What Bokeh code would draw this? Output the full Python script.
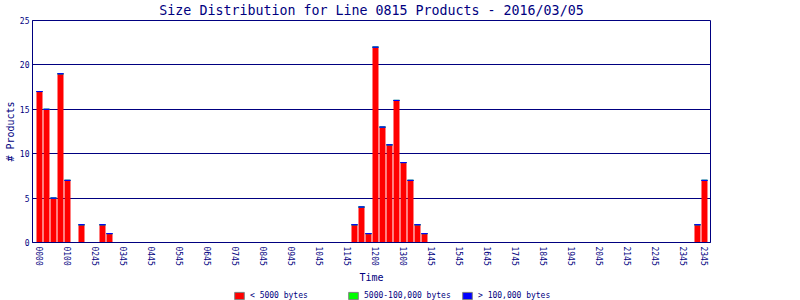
from bokeh.plotting import figure
from bokeh.layouts import column
from bokeh.models import (ColumnDataSource, Range1d, FixedTicker, Legend, LegendItem)
from bokeh.embed import file_html
from bokeh.resources import INLINE

# ---- data ----
all_slots = [f"{h:02d}{m:02d}" for h in range(24) for m in (0, 15, 30, 45)]
bar_slots = ["0000", "0015", "0030", "0045", "0100", "0130", "0215", "0230",
             "1115", "1130", "1145", "1200", "1215", "1230", "1245", "1300",
             "1315", "1330", "1345", "2330", "2345"]
small = [17, 15, 5, 19, 7, 2, 2, 1,
         2, 4, 1, 22, 13, 11, 16, 9,
         7, 2, 1, 2, 7]
medium = [0] * len(bar_slots)
large = [0] * len(bar_slots)
series_fields = ["small", "medium", "large"]
series_names = ["< 5000 bytes", "5000-100,000 bytes", "> 100,000 bytes"]
series_colors = ["#ff0000", "#00ff00", "#0000ff"]
tick_slots = ["0000", "0100", "0200", "0300", "0400", "0500", "0600", "0700",
              "0800", "0900", "1000", "1100", "1200", "1300", "1400", "1500",
              "1600", "1700", "1800", "1900", "2000", "2100", "2200", "2300", "2345"]
tick_labels = ["0000", "0100", "0245", "0345", "0445", "0545", "0645", "0745",
               "0845", "0945", "1045", "1145", "1200", "1300", "1445", "1545",
               "1645", "1745", "1845", "1945", "2045", "2145", "2245", "2345", "2345"]
y_ticks = [0, 5, 10, 15, 20, 25]

NAVY = "#000080"
FONT = "DejaVu Sans Mono"

xpos = [all_slots.index(s) for s in bar_slots]
source = ColumnDataSource(dict(x=xpos, small=small, medium=medium, large=large))

p = figure(width=800, height=288, output_backend="svg", toolbar_location=None,
           x_range=Range1d(-1.0, len(all_slots) - 0.14), y_range=Range1d(0, 25),
           min_border_left=32, min_border_right=90, min_border_top=20, min_border_bottom=46)

p.title.text = "Size Distribution for Line 0815 Products - 2016/03/05"
p.title.align = "center"
p.title.vertical_align = "top"
p.title.text_font = FONT
p.title.text_font_size = "13.3px"
p.title.text_font_style = "normal"
p.title.text_color = NAVY
p.title.standoff = 2

p.vbar_stack(series_fields, x="x", width=0.857, source=source,
             fill_color=series_colors, line_color=series_colors,
             line_alpha=[0, 1, 1], line_width=1)

tick_pos = [all_slots.index(s) for s in tick_slots]
p.xaxis.ticker = FixedTicker(ticks=tick_pos)
p.xaxis.major_label_overrides = {t: l for t, l in zip(tick_pos, tick_labels)}
p.xaxis.major_label_orientation = "vertical"
p.yaxis.ticker = FixedTicker(ticks=y_ticks)

for ax in (p.xaxis[0], p.yaxis[0]):
    ax.axis_line_color = NAVY
    ax.axis_line_width = 1
    ax.major_tick_out = 0
    ax.major_tick_in = 0
    ax.minor_tick_out = 0
    ax.minor_tick_in = 0
    ax.major_label_text_font = FONT
    ax.major_label_text_font_size = "8px"
    ax.major_label_text_color = NAVY
    ax.axis_label_text_font = FONT
    ax.axis_label_text_font_size = "10px"
    ax.axis_label_text_font_style = "normal"
    ax.axis_label_text_color = NAVY

p.xaxis.major_label_standoff = 4
p.xaxis.axis_label_standoff = 3
p.yaxis.major_label_standoff = 3
p.yaxis.axis_label_standoff = 1

p.xaxis.axis_label = "Time"
p.yaxis.axis_label = "# Products"

p.xgrid.grid_line_color = None
p.ygrid.grid_line_color = NAVY
p.ygrid.grid_line_width = 1
p.outline_line_color = NAVY
p.outline_line_width = 1
p.outline_line_alpha = 1
p.background_fill_color = "white"
p.border_fill_color = "white"

# ---- legend strip (keys from hidden copies of the same series) ----
lp = figure(width=800, height=12, output_backend="svg", toolbar_location=None,
            x_axis_type=None, y_axis_type=None,
            x_range=Range1d(-1.0, len(all_slots) - 0.14), y_range=Range1d(0, 25),
            min_border_left=0, min_border_right=0, min_border_top=0, min_border_bottom=0)
lp.grid.grid_line_color = None
lp.outline_line_color = None
lp.background_fill_color = "white"
lp.border_fill_color = "white"
proxies = []
for fld, col in zip(series_fields, series_colors):
    r = lp.vbar(x="x", top=fld, width=0.857, source=source,
                fill_color=col, line_color="#808080", line_width=1)
    r.visible = False
    proxies.append(r)

legend = Legend(items=[LegendItem(label=n, renderers=[r]) for n, r in zip(series_names, proxies)],
                location=(201, 0), orientation="horizontal", padding=0, margin=0, spacing=7,
                glyph_width=12, glyph_height=9, label_standoff=5, label_width=90,
                label_text_font=FONT, label_text_font_size="8px",
                label_text_color=NAVY, border_line_alpha=0, background_fill_alpha=0,
                label_height=9, inactive_fill_alpha=0)
lp.add_layout(legend, "center")

layout = column(p, lp, spacing=0)
open("out.html", "w").write(file_html(layout, INLINE))
